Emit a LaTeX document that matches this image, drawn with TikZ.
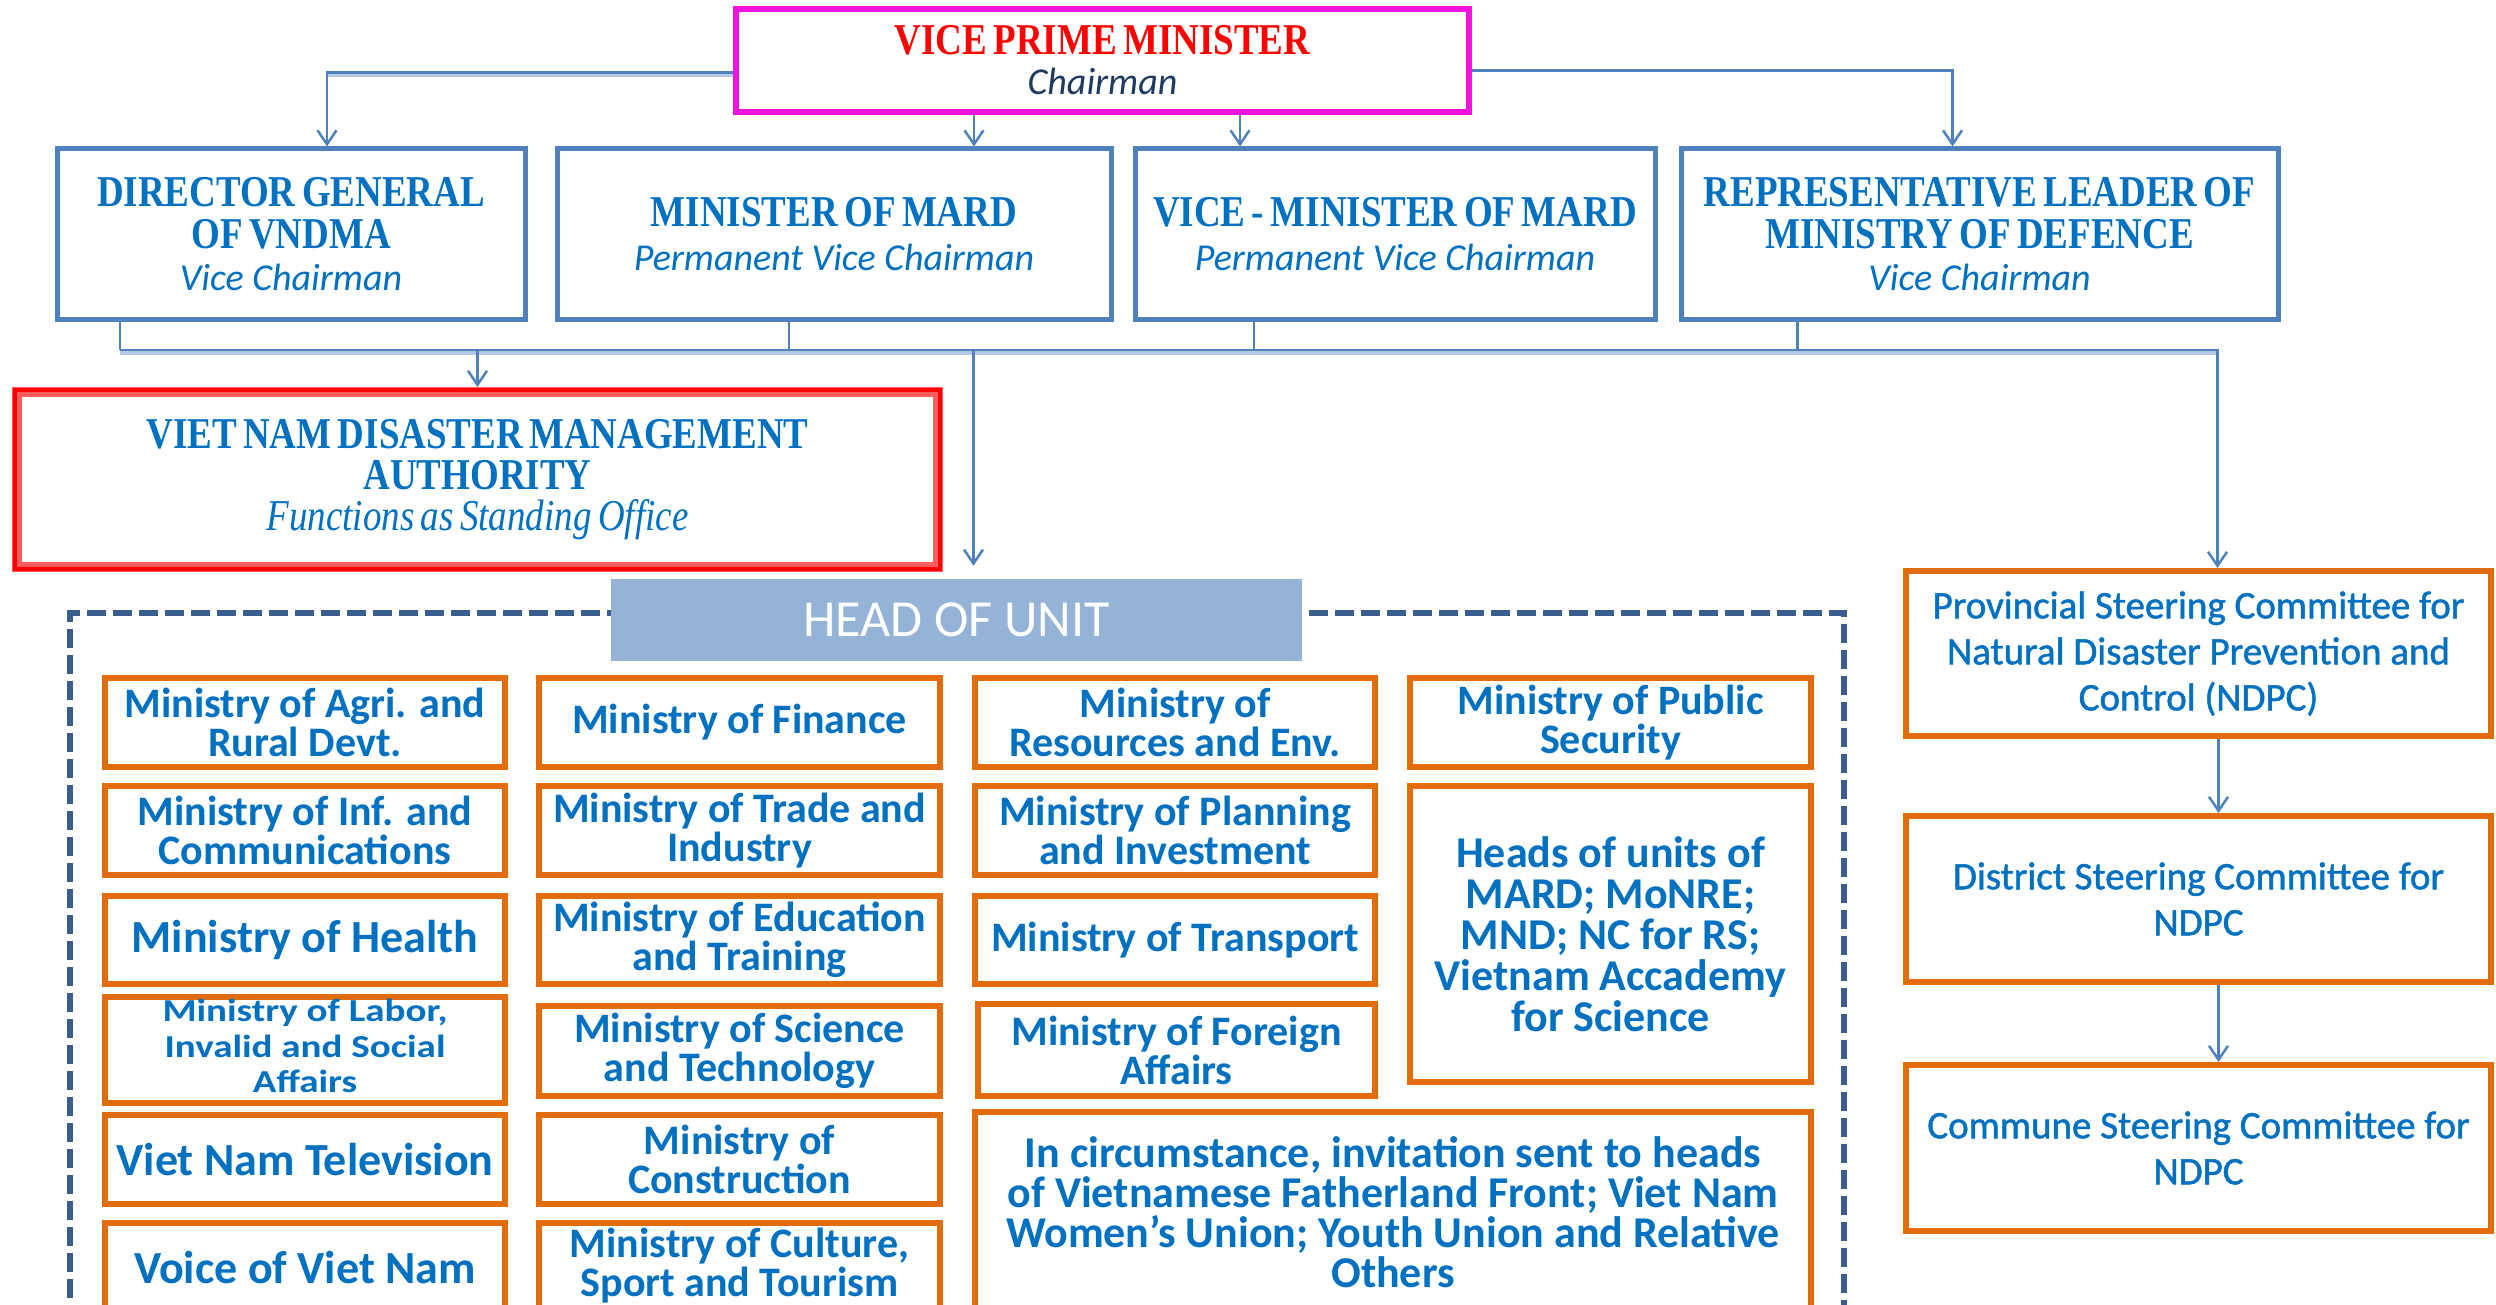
\documentclass[tikz,border=0pt]{standalone}
\usepackage{fontspec}
\setmainfont{Carlito}
\newfontfamily\capserif[FakeStretch=0.84,WordSpace=0.7]{Liberation Serif}
\newfontfamily\levelfont[FakeBold=1.2]{Carlito}
\usetikzlibrary{arrows.meta}

\definecolor{lineblue}{HTML}{4F81BD}
\definecolor{shadeblue}{HTML}{B4C8E2}
\definecolor{txtblue}{HTML}{0070C0}
\definecolor{orangeb}{HTML}{E36C0A}
\definecolor{dashblue}{HTML}{395D8C}
\definecolor{headfill}{HTML}{95B3D7}
\definecolor{magentab}{HTML}{F214DC}
\definecolor{navy}{HTML}{1F3A60}
\definecolor{halo}{HTML}{FF5C5C}

% box from outer corners (x1,y1)-(x2,y2), y grows downwards
\newcommand\placebox[7]{\node[#1,minimum width={#5-#3-6},minimum height={#6-#4-6}] (#2) at ({(#3+#5)/2},{(#4+#6)/2}) {#7};}
\newcommand\subit[1]{{\normalfont\itshape\fontsize{38}{42}\selectfont #1}}

\begin{document}
\begin{tikzpicture}[x=1pt,y=-1pt,
  conn/.style={draw=lineblue,line width=2.5pt},
  shade/.style={draw=shadeblue,line width=4pt},
  tip/.style={-{Straight Barb[length=14pt,width=19pt,line width=2.5pt]}},
  topbox/.style={draw=lineblue,line width=5pt,fill=white,inner sep=0pt,align=center,
    text=txtblue,font=\capserif\bfseries\fontsize{44}{42}\selectfont},
  chairbox/.style={draw=magentab,line width=6pt,fill=white,inner sep=0pt,align=center,
    font=\capserif\bfseries\fontsize{44}{40}\selectfont},
  officebox/.style={draw=halo,line width=10pt,fill=white,inner sep=0pt,align=center,
    text=txtblue,font=\capserif\bfseries\fontsize{44}{41}\selectfont},
  minbox/.style={draw=orangeb,line width=6pt,fill=white,inner sep=0pt,align=center,
    text=txtblue,font=\bfseries\fontsize{42}{39}\selectfont},
  bigmin/.style={minbox,font=\bfseries\fontsize{46}{41}\selectfont},
  headsmin/.style={minbox,font=\bfseries\fontsize{44}{41}\selectfont},
  notebox/.style={minbox,font=\bfseries\fontsize{44}{40}\selectfont},
  levelbox/.style={draw=orangeb,line width=6pt,fill=white,inner sep=0pt,align=center,
    text=txtblue,font=\levelfont\fontsize{39}{46}\selectfont},
  dashframe/.style={draw=dashblue,line width=6.5pt,dash pattern=on 19pt off 7pt},
  headlabel/.style={fill=headfill,inner sep=0pt,text=white,font=\fontsize{52}{56}\selectfont}
]
\useasboundingbox (0,0) rectangle (2496,1305);
\clip (0,0) rectangle (2496,1305);

% ---- chairman and vice chairmen ----
\placebox{chairbox}{vpm}{733}{6}{1472}{115}{{\color{red}VICE PRIME MINISTER}\\{\color{navy}\subit{Chairman}}}
\placebox{topbox}{dg}{54}{146}{528}{323}{DIRECTOR GENERAL\\OF VNDMA\\\subit{Vice Chairman}}
\placebox{topbox}{mard}{554}{146}{1114}{323}{MINISTER OF MARD\\[2pt]\subit{Permanent Vice Chairman}}
\placebox{topbox}{vm}{1132}{146}{1658}{323}{VICE - MINISTER OF MARD\\[2pt]\subit{Permanent Vice Chairman}}
\placebox{topbox}{rep}{1678}{146}{2281}{323}{REPRESENTATIVE LEADER OF\\MINISTRY OF DEFENCE\\\subit{Vice Chairman}}

% ---- standing office ----
\placebox{officebox}{vndma}{14}{389}{941}{570}{VIET NAM DISASTER MANAGEMENT\\AUTHORITY\\{\mdseries\itshape Functions as Standing Office}}
\draw[red,line width=4pt] ([shift={(3pt,-3pt)}]vndma.north west) rectangle ([shift={(-3pt,3pt)}]vndma.south east);

% ---- heads of unit ----
\placebox{dashframe,inner sep=0pt}{unitframe}{67}{610}{1847}{1420}{}
\placebox{headlabel}{head}{608}{576}{1305}{664}{HEAD OF UNIT}

\placebox{minbox}{agri}{102}{675}{508}{770}{Ministry of Agri. and\\Rural Devt.}
\placebox{minbox}{inf}{102}{783}{508}{878}{Ministry of Inf. and\\Communications}
\placebox{bigmin}{health}{102}{893}{508}{987}{Ministry of Health}
\placebox{minbox}{labor}{102}{1001}{508}{1099}{\fontsize{39}{43}\selectfont\scalebox{1}[0.82]{\begin{tabular}{@{}c@{}}Ministry of Labor,\\Invalid and Social\\Affairs\end{tabular}}}
\placebox{bigmin}{vtv}{102}{1112}{508}{1207}{Viet Nam Television}
\placebox{bigmin}{vov}{102}{1220}{508}{1316}{Voice of Viet Nam}

\placebox{minbox}{fin}{536}{675}{943}{770}{Ministry of Finance}
\placebox{minbox}{trade}{536}{783}{943}{878}{Ministry of Trade and\\Industry}
\placebox{minbox}{edu}{536}{893}{943}{987}{Ministry of Education\\and Training}
\placebox{minbox}{sci}{536}{1003}{943}{1099}{Ministry of Science\\and Technology}
\placebox{minbox}{cons}{536}{1112}{943}{1207}{Ministry of\\Construction}
\placebox{minbox}{cult}{536}{1220}{943}{1312}{Ministry of Culture,\\Sport and Tourism}

\placebox{minbox}{res}{972}{675}{1378}{770}{Ministry of\\Resources and Env.}
\placebox{minbox}{plan}{972}{783}{1378}{878}{Ministry of Planning\\and Investment}
\placebox{minbox}{trans}{972}{893}{1378}{987}{Ministry of Transport}
\placebox{minbox}{foreign}{975}{1001}{1378}{1099}{Ministry of Foreign\\Affairs}

\placebox{minbox}{security}{1407}{675}{1814}{770}{Ministry of Public\\Security}
\placebox{headsmin}{heads}{1407}{783}{1814}{1085}{Heads of units of\\MARD; MoNRE;\\MND; NC for RS;\\Vietnam Accademy\\for Science}
\placebox{notebox}{invite}{972}{1109}{1814}{1315}{In circumstance, invitation sent to heads\\of Vietnamese Fatherland Front; Viet Nam\\Women’s Union; Youth Union and Relative\\Others}

% ---- local levels ----
\placebox{levelbox}{prov}{1903}{568}{2494}{739}{Provincial Steering Committee for\\Natural Disaster Prevention and\\Control (NDPC)}
\placebox{levelbox}{dist}{1903}{813}{2494}{985}{District Steering Committee for\\NDPC}
\placebox{levelbox}{comm}{1903}{1062}{2494}{1234}{Commune Steering Committee for\\NDPC}

% ---- connectors from the chairman ----
\coordinate (t1) at ([xshift=36pt]dg.north);
\coordinate (t2) at ([xshift=140pt]mard.north);
\coordinate (t3) at ([xshift=-155pt]vm.north);
\coordinate (t4) at ([xshift=-27pt]rep.north);
\draw[shade,transform canvas={yshift=-3pt}] ([yshift=-12pt]vpm.west) -- ([yshift=-12pt]vpm.west -| t1);
\draw[conn,tip] ([yshift=-12pt]vpm.west) -| (t1);
\draw[conn,tip] (t2 |- vpm.south) -- (t2);
\draw[conn,tip] (t3 |- vpm.south) -- (t3);
\draw[conn,tip] ([yshift=-10pt]vpm.east) -| (t4);

% ---- common bus below the vice chairmen ----
\coordinate (busy) at (0,350);
\coordinate (d1) at ([xshift=-171pt]dg.south);
\coordinate (d2) at ([xshift=-45pt]mard.south);
\coordinate (d3) at ([xshift=-141pt]vm.south);
\coordinate (d4) at ([xshift=-182pt]rep.south);
\coordinate (p0) at ([xshift=19pt]prov.north);
\coordinate (h1) at ([xshift=17pt]head.north);
\draw[shade,transform canvas={yshift=-3pt}] (d1 |- busy) -- (p0 |- busy);
\draw[conn] (d1) -- (d1 |- busy);
\draw[conn] (d2) -- (d2 |- busy);
\draw[conn] (d3) -- (d3 |- busy);
\draw[conn] (d4) -- (d4 |- busy);
\draw[conn,tip] (d1 |- busy) -| (p0);
\draw[conn,tip] (vndma.north |- busy) -- (vndma.north);
\draw[conn,tip,shorten >=13pt] (h1 |- busy) -- (h1);

% ---- provincial to district to commune ----
\coordinate (p1) at ([xshift=20pt]prov.south);
\coordinate (p2) at ([xshift=20pt]dist.south);
\draw[conn,tip] (p1) -- (p1 |- dist.north);
\draw[conn,tip] (p2) -- (p2 |- comm.north);
\end{tikzpicture}
\end{document}
